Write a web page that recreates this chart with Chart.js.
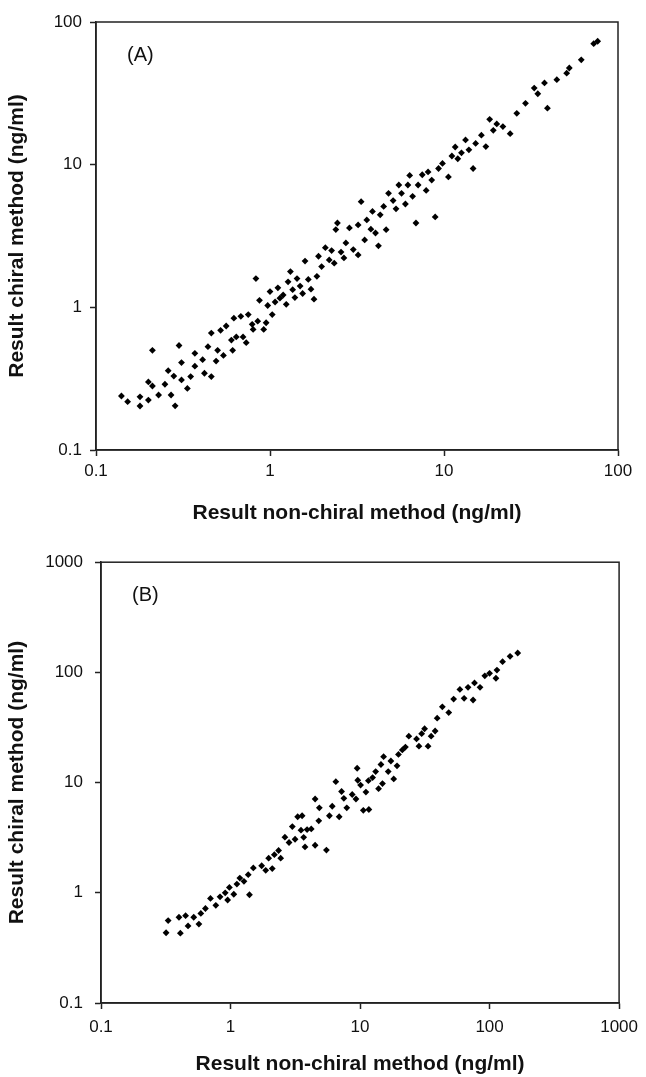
<!DOCTYPE html>
<html lang="en">
<head>
    <meta charset="UTF-8">
    <title>Chiral vs non-chiral method</title>
    <script src="https://cdn.jsdelivr.net/npm/chart.js"></script>
    <style>
        body {
            margin: 0;
            background: #fff;
            width: 646px;
            height: 1077px;
            overflow: hidden;
        }
        canvas {
            position: absolute;
            left: 0;
        }
        #chartA { top: 0; }
        #chartB { top: 540px; }
    </style>
</head>
<body>
<canvas id="chartA" width="646" height="540"></canvas>
<canvas id="chartB" width="646" height="537"></canvas>

<script>
    // panel A: non-chiral (x) vs chiral (y), ng/ml
    const xA = [0.14, 0.152, 0.179, 0.179, 0.2, 0.211, 0.211, 0.2, 0.229, 0.249, 0.26, 0.27, 0.28, 0.285, 0.30,
        0.31, 0.31, 0.335, 0.35, 0.37, 0.37, 0.41, 0.42, 0.44, 0.46, 0.46, 0.49, 0.52, 0.50, 0.54,
        0.56, 0.60, 0.61, 0.62, 0.64, 0.68, 0.70, 0.73, 0.75, 0.79, 0.80, 0.83, 0.85, 0.87, 0.92,
        0.95, 0.97, 1.0, 1.03, 1.07, 1.11, 1.14, 1.19, 1.24, 1.27, 1.31, 1.35, 1.39, 1.43, 1.49,
        1.54, 1.59, 1.66, 1.72, 1.79, 1.86, 1.90, 1.98, 2.08, 2.19, 2.26, 2.34, 2.39, 2.44, 2.56,
        2.66, 2.73, 2.86, 3.01, 3.21, 3.21, 3.34, 3.5, 3.6, 3.8, 3.88, 4.04, 4.2, 4.3, 4.5,
        4.65, 4.8, 5.1, 5.3, 5.5, 5.7, 6.0, 6.2, 6.35, 6.6, 6.9, 7.1, 7.5, 7.9, 8.1,
        8.5, 8.9, 9.3, 9.8, 10.6, 11.1, 11.6, 12.0, 12.6, 13.3, 13.9, 14.7, 15.2, 16.4, 17.4,
        18.3, 19.2, 20.1, 21.8, 24.0, 26.2, 29.4, 33.0, 34.6, 37.8, 39.3, 44.5, 50.7, 52.5, 61.5,
        72.5, 76.4];
    const yA = [0.239, 0.218, 0.236, 0.2035, 0.30, 0.281, 0.50, 0.224, 0.243, 0.289, 0.36, 0.243, 0.33, 0.204, 0.54,
        0.41, 0.31, 0.27, 0.327, 0.387, 0.476, 0.43, 0.345, 0.53, 0.66, 0.327, 0.42, 0.69, 0.50, 0.46,
        0.74, 0.59, 0.50, 0.84, 0.62, 0.865, 0.62, 0.565, 0.89, 0.76, 0.70, 1.59, 0.80, 1.12, 0.70,
        0.78, 1.03, 1.29, 0.89, 1.09, 1.37, 1.16, 1.22, 1.05, 1.51, 1.78, 1.33, 1.17, 1.59, 1.41,
        1.25, 2.11, 1.57, 1.34, 1.14, 1.65, 2.28, 1.93, 2.62, 2.15, 2.50, 2.04, 3.51, 3.9, 2.44,
        2.22, 2.83, 3.6, 2.54, 2.33, 3.78, 5.5, 2.97, 4.1, 3.53, 4.7, 3.32, 2.7, 4.45, 5.1,
        3.5, 6.3, 5.6, 4.9, 7.2, 6.3, 5.3, 7.2, 8.4, 6.0, 3.9, 7.2, 8.5, 6.6, 8.9,
        7.8, 4.3, 9.4, 10.2, 8.2, 11.5, 13.3, 11.0, 12.1, 14.9, 12.7, 9.4, 14.1, 16.1, 13.4,
        20.8, 17.4, 19.3, 18.5, 16.5, 22.9, 26.9, 34.4, 31.4, 37.4, 24.9, 39.4, 43.8, 47.6, 54.3,
        70.5, 73.3];

    // panel B
    const xB = [0.318, 0.33, 0.40, 0.41, 0.45, 0.47, 0.52, 0.57, 0.59, 0.64, 0.70, 0.77, 0.83, 0.91, 0.95,
        0.98, 1.06, 1.12, 1.18, 1.27, 1.37, 1.40, 1.5, 1.74, 1.87, 1.97, 2.1, 2.18, 2.35, 2.44,
        2.63, 2.83, 3.0, 3.15, 3.3, 3.5, 3.57, 3.67, 3.76, 3.9, 4.2, 4.5, 4.5, 4.8, 4.85,
        5.5, 5.8, 6.1, 6.5, 6.9, 7.2, 7.5, 7.9, 8.7, 9.3, 9.5, 9.6, 10.1, 10.6, 11.1,
        11.6, 11.7, 12.5, 13.2, 13.9, 14.5, 14.9, 15.2, 16.5, 17.3, 18.2, 19.3, 19.8, 21.2, 22.4,
        23.8, 27.3, 28.5, 29.9, 31.5, 33.5, 35.4, 38.0, 39.4, 43.2, 48.4, 52.8, 59.0, 63.6, 68.2,
        74.6, 76.5, 84.4, 91.9, 100, 112, 114, 126, 144, 165];
    const yB = [0.434, 0.56, 0.60, 0.43, 0.62, 0.50, 0.60, 0.52, 0.65, 0.72, 0.89, 0.77, 0.92, 1.0, 0.86,
        1.12, 0.97, 1.2, 1.36, 1.27, 1.46, 0.96, 1.68, 1.76, 1.6, 2.06, 1.66, 2.22, 2.42, 2.06,
        3.2, 2.86, 3.99, 3.06, 4.9, 3.7, 5.0, 3.19, 2.61, 3.75, 3.8, 2.7, 7.1, 4.5, 5.9,
        2.44, 5.0, 6.1, 10.2, 4.9, 8.3, 7.2, 5.9, 7.8, 7.1, 13.5, 10.5, 9.5, 5.6, 8.2,
        10.4, 5.7, 11.1, 12.6, 8.8, 14.6, 9.8, 17.2, 12.6, 15.7, 10.8, 14.2, 18.0, 19.8, 21.0,
        26.4, 24.9, 21.4, 27.8, 30.8, 21.4, 26.4, 29.4, 38.4, 48.7, 43.2, 57.3, 70.0, 58.2, 73.2,
        56.2, 80.2, 73.2, 93, 98, 88.5, 105, 125, 140, 150];

    const ticksA = [0.1, 1, 10, 100];
    const ticksB = [0.1, 1, 10, 100, 1000];

    const FONT = "'Liberation Sans', Arial, sans-serif";
    const INK = '#222';

    // closes the plot box (top and right sides) and writes the panel letter
    const frame = {
        id: 'frame',
        afterDraw(chart, args, opts) {
            const a = chart.chartArea;
            const ctx = chart.ctx;
            ctx.save();
            ctx.strokeStyle = INK;
            ctx.lineWidth = 1.5;
            ctx.strokeRect(a.left, a.top, a.right - a.left, a.bottom - a.top);
            ctx.fillStyle = '#111';
            ctx.font = '20px ' + FONT;
            ctx.textBaseline = 'middle';
            ctx.fillText(opts.label, a.left + 31, a.top + 33);
            ctx.restore();
        }
    };

    function logAxis(ticks, cfg) {
        return {
            type: 'logarithmic',
            min: ticks[0],
            max: ticks[ticks.length - 1],
            afterBuildTicks(scale) {
                scale.ticks = ticks.map(v => ({ value: v }));
            },
            afterFit(scale) {
                if (cfg.width) scale.width = cfg.width;
                if (cfg.height) scale.height = cfg.height;
            },
            ticks: {
                color: '#111',
                font: { family: FONT, size: 17 },
                padding: cfg.pad,
                maxRotation: 0,
                autoSkip: false,
                callback: v => String(v)
            },
            grid: {
                drawOnChartArea: false,
                color: INK,
                tickLength: 6,
                tickWidth: 1.5
            },
            border: { color: INK, width: 1.5 },
            title: {
                display: true,
                text: cfg.title,
                color: '#111',
                font: { family: FONT, size: 21, weight: 'bold' },
                padding: cfg.titlePad
            }
        };
    }

    function makeChart(id, xs, ys, ticks, c) {
        const points = xs.map((x, i) => ({ x: x, y: ys[i] }));
        return new Chart(document.getElementById(id), {
            type: 'scatter',
            data: {
                datasets: [{
                    data: points,
                    pointStyle: 'rectRot',
                    pointRadius: 3.4,
                    backgroundColor: '#000',
                    borderWidth: 0
                }]
            },
            options: {
                responsive: false,
                animation: false,
                devicePixelRatio: 1,
                layout: { padding: c.padding },
                plugins: {
                    legend: { display: false },
                    tooltip: { enabled: false },
                    frame: { label: c.label }
                },
                scales: {
                    x: logAxis(ticks, {
                        height: c.xHeight, pad: c.xPad,
                        title: 'Result non-chiral method (ng/ml)',
                        titlePad: { top: 0, bottom: c.xTitlePad }
                    }),
                    y: logAxis(ticks, {
                        width: c.yWidth, pad: c.yPad,
                        title: 'Result chiral method (ng/ml)',
                        titlePad: { top: 5, bottom: 0 }
                    })
                }
            },
            plugins: [frame]
        });
    }

    makeChart('chartA', xA, yA, ticksA, {
        label: '(A)',
        padding: { left: 0, top: 22, right: 28, bottom: 0 },
        yWidth: 96, xHeight: 90, xPad: 5, yPad: 8, xTitlePad: 14
    });

    makeChart('chartB', xB, yB, ticksB, {
        label: '(B)',
        padding: { left: 0, top: 21, right: 22, bottom: 0 },
        yWidth: 101, xHeight: 74, xPad: 8, yPad: 12, xTitlePad: 0
    });
</script>
</body>
</html>
